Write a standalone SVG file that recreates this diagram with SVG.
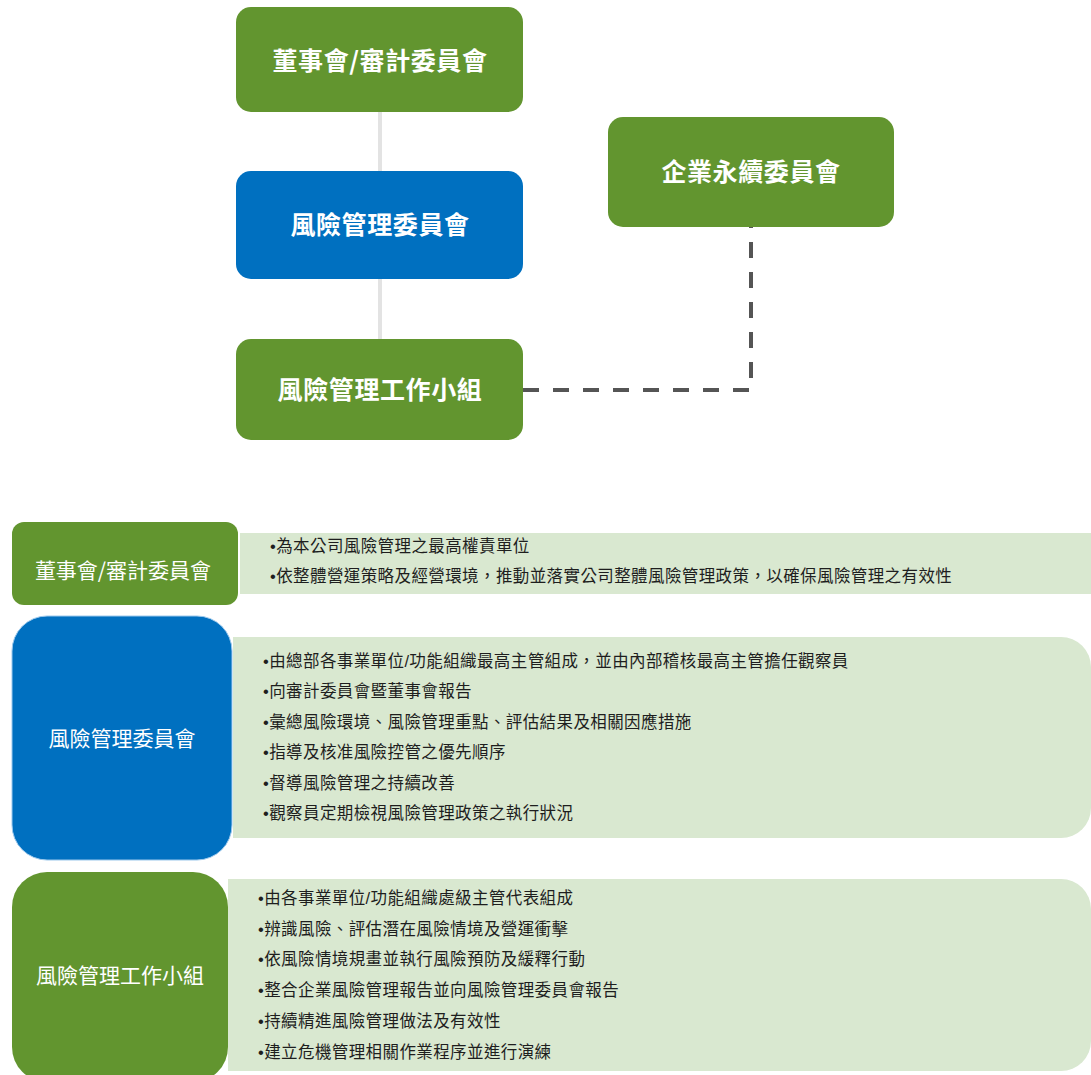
<svg xmlns="http://www.w3.org/2000/svg" width="1091" height="1075" viewBox="0 0 1091 1075">
<style>
.g{fill:#62952f}
.b{fill:#0070c0}
.p{fill:#d9e8d0}
.tt{font-family:"Noto Sans CJK TC","Noto Sans CJK SC",sans-serif;font-size:25px;font-weight:bold;fill:#ffffff;text-anchor:middle;letter-spacing:0.6px}
.lt{font-family:"Noto Sans CJK TC","Noto Sans CJK SC",sans-serif;font-size:21px;fill:#ffffff;text-anchor:middle}
.it{font-family:"Liberation Sans","Noto Sans CJK TC","Noto Sans CJK SC",sans-serif;font-size:16.5px;fill:#1e1e1e;letter-spacing:0.4px}
</style>
<rect width="1091" height="1075" fill="#ffffff"/>
<g id="connectors">
<line x1="380" y1="112" x2="380" y2="171" stroke="#e3e3e3" stroke-width="4"/>
<line x1="380" y1="279" x2="380" y2="339" stroke="#e3e3e3" stroke-width="4"/>
<polyline points="523,390 751,390 751,227" fill="none" stroke="#555555" stroke-width="4" stroke-dasharray="16 14"/>
</g>
<g id="top-board">
<rect class="g" x="236" y="7" width="287" height="105" rx="15"/>
<text class="tt" x="380" y="70">董事會/審計委員會</text>
</g>
<g id="top-rmc">
<rect class="b" x="236" y="171" width="287" height="108" rx="15"/>
<text class="tt" x="380" y="234">風險管理委員會</text>
</g>
<g id="top-wg">
<rect class="g" x="236" y="339" width="287" height="101" rx="15"/>
<text class="tt" x="380" y="399">風險管理工作小組</text>
</g>
<g id="top-esg">
<rect class="g" x="608" y="117" width="286" height="110" rx="15"/>
<text class="tt" x="751" y="181">企業永續委員會</text>
</g>
<g id="row1">
<rect class="p" x="240" y="533" width="860" height="61"/>
<rect class="g" x="12" y="522" width="226" height="83" rx="12"/>
<text class="lt" x="123" y="578">董事會/審計委員會</text>
<text class="it" x="270" y="552">•為本公司風險管理之最高權責單位</text>
<text class="it" x="270" y="582">•依整體營運策略及經營環境，推動並落實公司整體風險管理政策，以確保風險管理之有效性</text>
</g>
<g id="row2">
<rect class="p" x="233" y="637" width="858" height="201" rx="30"/>
<rect class="p" x="233" y="637" width="100" height="201"/>
<rect class="b" x="12" y="616" width="220" height="244" rx="35" stroke="#9cc8ec" stroke-width="1"/>
<text class="lt" x="122" y="746">風險管理委員會</text>
<text class="it" x="263" y="667">•由總部各事業單位/功能組織最高主管組成，並由內部稽核最高主管擔任觀察員</text>
<text class="it" x="263" y="697">•向審計委員會暨董事會報告</text>
<text class="it" x="263" y="728">•彙總風險環境、風險管理重點、評估結果及相關因應措施</text>
<text class="it" x="263" y="758">•指導及核准風險控管之優先順序</text>
<text class="it" x="263" y="789">•督導風險管理之持續改善</text>
<text class="it" x="263" y="819">•觀察員定期檢視風險管理政策之執行狀況</text>
</g>
<g id="row3">
<rect class="p" x="228" y="879" width="863" height="192" rx="30"/>
<rect class="p" x="228" y="879" width="100" height="192"/>
<rect class="g" x="12" y="872" width="216" height="210" rx="35"/>
<text class="lt" x="120" y="983">風險管理工作小組</text>
<text class="it" x="258" y="904">•由各事業單位/功能組織處級主管代表組成</text>
<text class="it" x="258" y="935">•辨識風險、評估潛在風險情境及營運衝擊</text>
<text class="it" x="258" y="965">•依風險情境規畫並執行風險預防及緩釋行動</text>
<text class="it" x="258" y="996">•整合企業風險管理報告並向風險管理委員會報告</text>
<text class="it" x="258" y="1027">•持續精進風險管理做法及有效性</text>
<text class="it" x="258" y="1058">•建立危機管理相關作業程序並進行演練</text>
</g>
</svg>
